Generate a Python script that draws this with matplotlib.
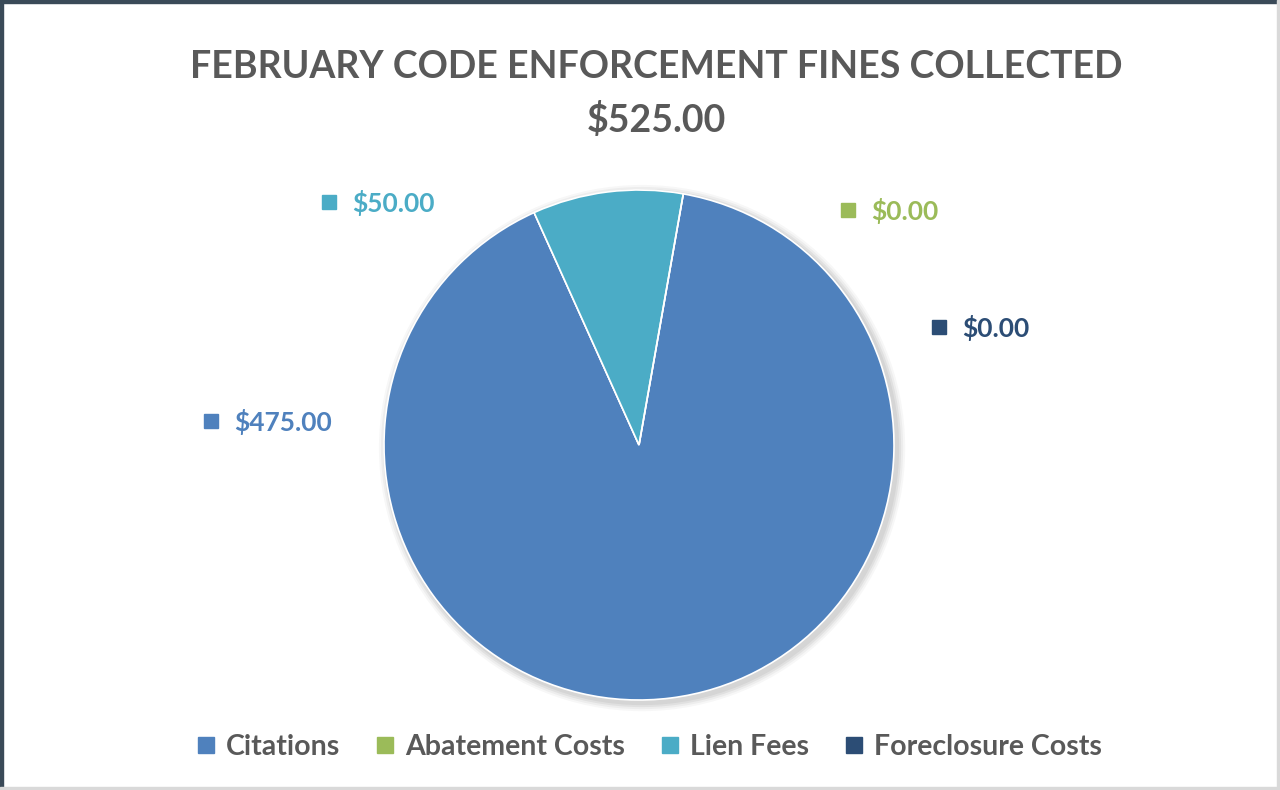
import matplotlib
matplotlib.use("Agg")
import matplotlib.pyplot as plt
from matplotlib.patches import Rectangle, Circle
from matplotlib.lines import Line2D

categories = ["Citations", "Abatement Costs", "Lien Fees", "Foreclosure Costs"]
values = [475.00, 0.00, 50.00, 0.00]
title_text = "FEBRUARY CODE ENFORCEMENT FINES COLLECTED"
total_text = "$525.00"

colors = ["#4F81BD", "#9BBB59", "#4BACC6", "#2C4D75"]
FONT = "Lato"

W, H = 1280, 790
fig = plt.figure(figsize=(W / 100, H / 100), dpi=100)
fig.patch.set_facecolor("white")

# chart border (dark top/left, light right/bottom)
fig.add_artist(Rectangle((0, 1 - 3 / H), 1, 3 / H, transform=fig.transFigure, color="#3A4A58", zorder=5))
fig.add_artist(Rectangle((0, 0), 3 / W, 1, transform=fig.transFigure, color="#3A4A58", zorder=5))
fig.add_artist(Rectangle((1 - 3 / W, 0), 3 / W, 1, transform=fig.transFigure, color="#D9D9D9", zorder=5))
fig.add_artist(Rectangle((0, 0), 1, 3 / H, transform=fig.transFigure, color="#D9D9D9", zorder=5))

cx, cy, r = 639, 445, 255
ax = fig.add_axes([(cx - r) / W, (H - cy - r) / H, 2 * r / W, 2 * r / H])

# soft shadow
for i, a in enumerate([0.05, 0.05, 0.04, 0.03]):
    ax.add_patch(Circle((0.012, -0.012), 1.0 + 0.008 * (i + 1), color="black", alpha=a, lw=0,
                        zorder=0, clip_on=False))

wedges, _ = ax.pie(values, colors=colors, startangle=80, counterclock=False, radius=1.0,
                   wedgeprops=dict(linewidth=1.2, edgecolor="white"))
for w in wedges:
    w.set_zorder(2)
    w.set_clip_on(False)
ax.set_xlim(-1, 1)
ax.set_ylim(-1, 1)
ax.set_aspect("equal")
ax.axis("off")

# data labels (marker + value), positions in pixels of the label text start
label_pos = [(234, 422), (871, 211), (352, 203), (962, 328)]
for val, col, (px, py) in zip(values, colors, label_pos):
    x = (px - cx) / r
    y = (cy - py) / r
    ax.text(x, y, f"${val:,.2f}", color=col, fontsize=19, fontweight="bold", family=FONT,
            ha="left", va="center", zorder=4, clip_on=False)
    ax.plot([x - 23 / r], [y + 1 / r], marker="s", markersize=10, color=col, clip_on=False, zorder=4)

fig.text(656 / W, 1 - 67 / H, title_text, ha="center", va="center", fontsize=27, fontweight="bold",
         color="#595959", family=FONT)
fig.text(656 / W, 1 - 120 / H, total_text, ha="center", va="center", fontsize=27, fontweight="bold",
         color="#595959", family=FONT)

handles = [Line2D([0], [0], marker="s", linestyle="none", markersize=12, color=c) for c in colors]
leg = fig.legend(handles, categories, loc="center", bbox_to_anchor=(647 / W, 1 - 747 / H), ncol=4,
                 frameon=False, handletextpad=0.2, columnspacing=1.08, handlelength=1.0,
                 prop=dict(family=FONT, weight="bold", size=20.5))
for t in leg.get_texts():
    t.set_color("#595959")

fig.savefig("out.png", dpi=100, facecolor="white")
